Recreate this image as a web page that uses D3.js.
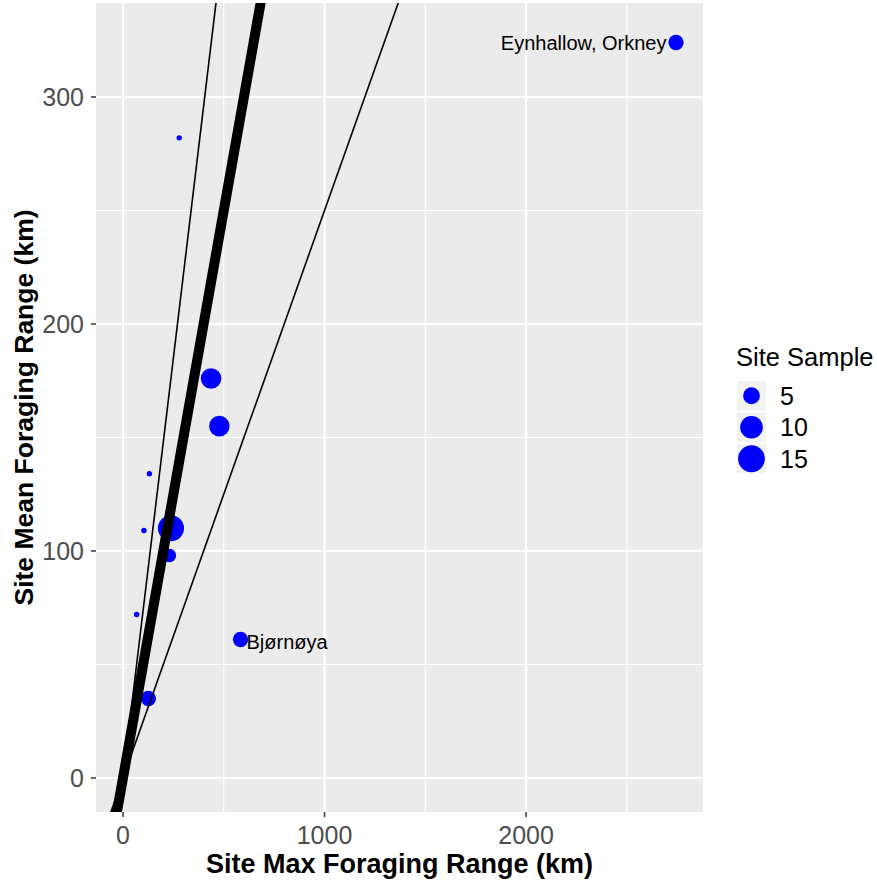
<!DOCTYPE html>
<html>
<head>
<meta charset="utf-8">
<script src="https://cdn.jsdelivr.net/npm/d3@7"></script>
<style>
  html, body { margin: 0; padding: 0; background: #ffffff; }
  svg { display: block; font-family: "Liberation Sans", Arial, sans-serif; }
</style>
</head>
<body>
<svg id="chart" width="877" height="883"></svg>
<script>
// ---- data ----
const siteMaxRange  = [279, 437, 478, 131, 104, 238, 230, 68, 583, 126, 2744];
const siteMeanRange = [282, 176, 155, 134, 109, 110, 98, 72, 61, 35, 324];
const siteSample    = [1, 8, 8, 1, 1, 14, 3, 1, 4, 4, 4];
const siteLabel     = ["", "", "", "", "", "", "", "", "Bjørnøya", "", "Eynhallow, Orkney"];
const lineSlopes    = [0.25, 0.5, 0.74];          // mean = slope * max
const xTicks        = [0, 1000, 2000];
const xMinor        = [500, 1500, 2500];
const yTicks        = [0, 100, 200, 300];
const yMinor        = [50, 150, 250];
const legendBreaks  = [5, 10, 15];

// ---- layout ----
const panel = { left: 96, right: 703, top: 3, bottom: 812 };
const svg = d3.select("#chart");

const x = d3.scaleLinear().domain([-134, 2878]).range([panel.left, panel.right]);
const y = d3.scaleLinear().domain([-15, 341.4]).range([panel.bottom, panel.top]);
const rScale = d3.scaleSqrt().domain([0, 15]).range([2.7, 13.8]);
const r = v => rScale(v - 1);

// panel background
svg.append("rect")
  .attr("x", panel.left).attr("y", panel.top)
  .attr("width", panel.right - panel.left).attr("height", panel.bottom - panel.top)
  .attr("fill", "#EBEBEB");

svg.append("clipPath").attr("id", "clip")
  .append("rect")
  .attr("x", panel.left).attr("y", panel.top)
  .attr("width", panel.right - panel.left).attr("height", panel.bottom - panel.top);

const grid = svg.append("g");
grid.selectAll(".xmin").data(xMinor).join("line")
  .attr("x1", d => x(d)).attr("x2", d => x(d))
  .attr("y1", panel.top).attr("y2", panel.bottom)
  .attr("stroke", "#fff").attr("stroke-width", 1.1);
grid.selectAll(".ymin").data(yMinor).join("line")
  .attr("y1", d => y(d)).attr("y2", d => y(d))
  .attr("x1", panel.left).attr("x2", panel.right)
  .attr("stroke", "#fff").attr("stroke-width", 1.1);
grid.selectAll(".xmaj").data(xTicks).join("line")
  .attr("x1", d => x(d)).attr("x2", d => x(d))
  .attr("y1", panel.top).attr("y2", panel.bottom)
  .attr("stroke", "#fff").attr("stroke-width", 2.1);
grid.selectAll(".ymaj").data(yTicks).join("line")
  .attr("y1", d => y(d)).attr("y2", d => y(d))
  .attr("x1", panel.left).attr("x2", panel.right)
  .attr("stroke", "#fff").attr("stroke-width", 2.1);

// points
const pts = siteMaxRange.map((d, i) => ({ mx: d, mn: siteMeanRange[i], n: siteSample[i], lab: siteLabel[i] }));
const plot = svg.append("g").attr("clip-path", "url(#clip)");
plot.selectAll("circle").data(pts).join("circle")
  .attr("cx", d => x(d.mx)).attr("cy", d => y(d.mn))
  .attr("r", d => r(d.n))
  .attr("fill", "#0000FF");

// reference lines (on top of points)
const lineWidths = [1.6, 10, 1.6];
lineSlopes.forEach((s, i) => {
  const dom = x.domain();
  plot.append("line")
    .attr("x1", x(dom[0])).attr("y1", y(s * dom[0]))
    .attr("x2", x(dom[1])).attr("y2", y(s * dom[1]))
    .attr("stroke", "#000").attr("stroke-width", lineWidths[i]);
});

// point labels
pts.filter(d => d.lab).forEach(d => {
  const right = d.mx > 1500;
  svg.append("text")
    .attr("x", x(d.mx) + (right ? -9.5 : 6))
    .attr("y", y(d.mn) + (right ? 7.5 : 10))
    .attr("text-anchor", right ? "end" : "start")
    .attr("font-size", 20).attr("fill", "#000")
    .text(d.lab);
});

// axes ticks
const tickColor = "#333333";
svg.selectAll(".xt").data(xTicks).join("line")
  .attr("x1", d => x(d)).attr("x2", d => x(d))
  .attr("y1", panel.bottom).attr("y2", panel.bottom + 5)
  .attr("stroke", tickColor).attr("stroke-width", 1.5);
svg.selectAll(".xtl").data(xTicks).join("text")
  .attr("x", d => x(d)).attr("y", 844)
  .attr("text-anchor", "middle").attr("font-size", 25).attr("fill", "#4D4D4D")
  .text(d => d);
svg.selectAll(".yt").data(yTicks).join("line")
  .attr("y1", d => y(d)).attr("y2", d => y(d))
  .attr("x1", panel.left - 5).attr("x2", panel.left)
  .attr("stroke", tickColor).attr("stroke-width", 1.5);
svg.selectAll(".ytl").data(yTicks).join("text")
  .attr("x", 84).attr("y", d => y(d)).attr("dy", "0.36em")
  .attr("text-anchor", "end").attr("font-size", 25).attr("fill", "#4D4D4D")
  .text(d => d);

// axis titles
svg.append("text")
  .attr("x", (panel.left + panel.right) / 2).attr("y", 873)
  .attr("text-anchor", "middle").attr("font-size", 27).attr("font-weight", "bold")
  .text("Site Max Foraging Range (km)");
svg.append("text")
  .attr("transform", `translate(33,${(panel.top + panel.bottom) / 2}) rotate(-90)`)
  .attr("text-anchor", "middle").attr("font-size", 26.5).attr("font-weight", "bold")
  .text("Site Mean Foraging Range (km)");

// legend
const lg = svg.append("g");
lg.append("text").attr("x", 736).attr("y", 366).attr("font-size", 25.5).attr("fill", "#000")
  .text("Site Sample");
const keyY = [381, 412.5, 444];
legendBreaks.forEach((b, i) => {
  lg.append("rect").attr("x", 737).attr("y", keyY[i]).attr("width", 29).attr("height", 29.5)
    .attr("fill", "#F2F2F2");
  lg.append("circle").attr("cx", 751.5).attr("cy", keyY[i] + 14.75).attr("r", r(b))
    .attr("fill", "#0000FF");
  lg.append("text").attr("x", 780).attr("y", keyY[i] + 14.75).attr("dy", "0.36em")
    .attr("font-size", 25).attr("fill", "#000").text(b);
});
</script>
</body>
</html>
